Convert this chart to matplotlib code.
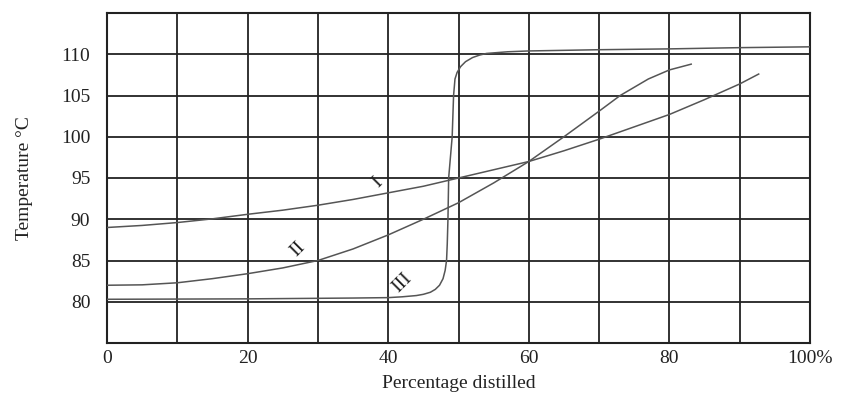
import matplotlib
matplotlib.use("Agg")
import matplotlib.pyplot as plt

# Curve I
x1 = [0, 5, 10, 15, 20, 25, 30, 35, 40, 45, 50, 55, 60, 65, 70, 75, 80, 85, 90, 92.7]
y1 = [89.0, 89.25, 89.6, 90.05, 90.6, 91.1, 91.7, 92.4, 93.2, 94.0, 95.0, 96.0, 97.0, 98.3, 99.7, 101.2, 102.7, 104.5, 106.4, 107.6]

# Curve II
x2 = [0, 5, 10, 15, 20, 25, 30, 35, 40, 45, 50, 55, 60, 65, 70, 73, 75, 77, 80, 83.1]
y2 = [82.0, 82.05, 82.3, 82.8, 83.4, 84.1, 85.0, 86.4, 88.1, 90.0, 92.0, 94.4, 97.0, 100.0, 103.1, 105.0, 106.0, 107.0, 108.1, 108.8]

# Curve III
x3 = [0, 20, 35, 40, 42, 44, 45, 46, 46.7, 47.3, 47.8, 48.1, 48.3, 48.4, 48.5, 48.6, 48.9, 49.1, 49.3, 49.5,
      49.8, 50.3, 51, 52, 53, 54, 57, 60, 70, 80, 90, 100]
y3 = [80.3, 80.35, 80.45, 80.5, 80.6, 80.75, 80.9, 81.15, 81.5, 82.0, 82.8, 83.8, 85.0, 87.0, 90.0, 95.0, 98.0, 100.0, 105.0, 107.0,
      107.8, 108.5, 109.1, 109.6, 109.9, 110.1, 110.3, 110.4, 110.55, 110.65, 110.8, 110.9]

curve_labels = ["I", "II", "III"]
label_pos = [(38.4, 94.5), (27.2, 86.4), (42.0, 82.3)]

x_ticks = [0, 20, 40, 60, 80, 100]
x_ticklabels = ["0", "20", "40", "60", "80", "100%"]
y_ticks = [80, 85, 90, 95, 100, 105, 110]
y_ticklabels = ["80", "85", "90", "95", "100", "105", "110"]

serif = ["Liberation Serif", "DejaVu Serif"]

fig = plt.figure(figsize=(8.42, 3.94), dpi=100)
ax = fig.add_axes([107 / 842, 1 - 343 / 394, (810 - 107) / 842, (343 - 13) / 394])

ax.set_xlim(0, 100)
ax.set_ylim(75, 115)

grid_color = "#222222"
for gx in range(10, 100, 10):
    ax.axvline(gx, color=grid_color, lw=1.3, zorder=1)
for gy in y_ticks:
    ax.axhline(gy, color=grid_color, lw=1.3, zorder=1)
for s in ax.spines.values():
    s.set_color(grid_color)
    s.set_linewidth(1.5)

curve_color = "#555555"
ax.plot(x1, y1, color=curve_color, lw=1.1, zorder=3)
ax.plot(x2, y2, color=curve_color, lw=1.1, zorder=3)
ax.plot(x3, y3, color=curve_color, lw=1.1, zorder=3)

for lab, (lx, ly) in zip(curve_labels, label_pos):
    ax.text(lx, ly, lab, rotation=45, ha="center", va="center",
            fontsize=14, family=serif, color="#222222", zorder=4)

ax.set_xticks(x_ticks)
ax.set_xticklabels(x_ticklabels, family=serif, fontsize=14, color="#222222")
ax.set_yticks(y_ticks)
ax.set_yticklabels(y_ticklabels, family=serif, fontsize=14, color="#222222")
ax.tick_params(axis="x", length=0, pad=5)
ax.tick_params(axis="y", length=0, pad=12)

ax.set_xlabel("Percentage distilled", family=serif, fontsize=14, color="#222222", labelpad=6)
ax.set_ylabel("Temperature °C", family=serif, fontsize=14, color="#222222", labelpad=20)

fig.savefig("out.png", dpi=100)
